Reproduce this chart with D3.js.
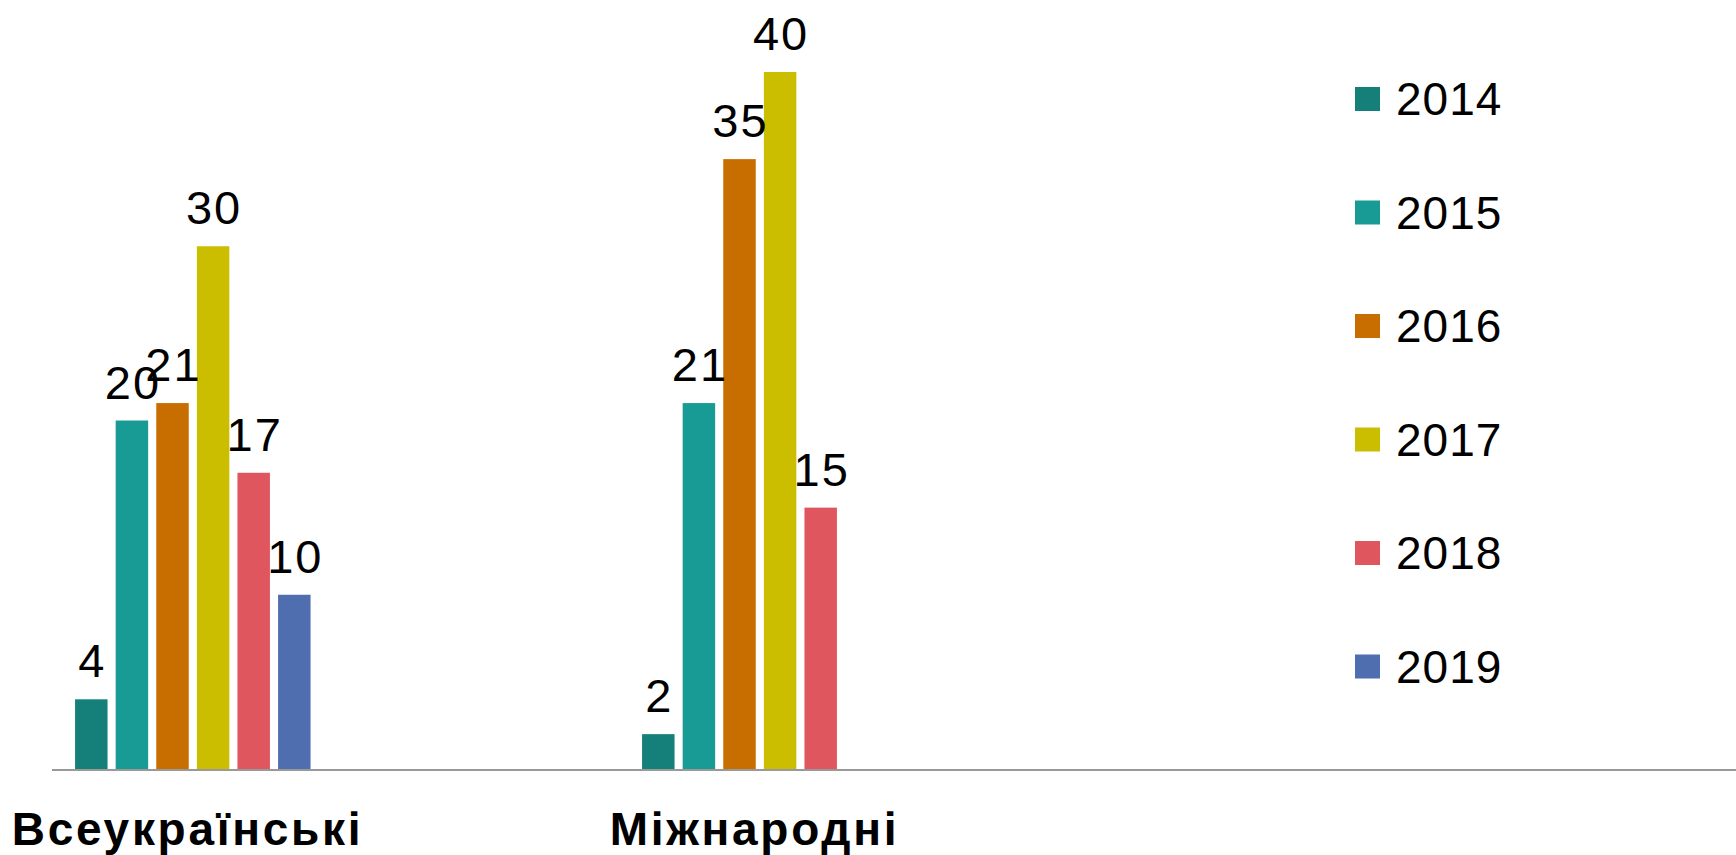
<!DOCTYPE html>
<html>
<head>
<meta charset="utf-8">
<script src="https://cdn.jsdelivr.net/npm/d3@7"></script>
<style>
    body { margin: 0; background: #fff; }
    svg { display: block; font-family: "Liberation Sans", Arial, sans-serif; }
    .value { font-size: 47px; fill: #000; letter-spacing: 2px; }
    .legend text { font-size: 46px; fill: #000; letter-spacing: 1px; }
    .xaxis text { font-size: 46px; font-weight: bold; fill: #000; letter-spacing: 2.7px; }
</style>
</head>
<body>
<div id="vis"></div>
<script>
// Categories, series and values
var categories = ['Всеукраїнські', 'Міжнародні'];
var years = ['2014', '2015', '2016', '2017', '2018', '2019'];
var colors = ['#15807a', '#189b95', '#c86e00', '#cbbe00', '#e0565e', '#4f6eb0'];
// values per year, in category order (null = no bar)
var values2014 = [4, 2];
var values2015 = [20, 21];
var values2016 = [21, 35];
var values2017 = [30, 40];
var values2018 = [17, 15];
var values2019 = [10, null];

var series = [values2014, values2015, values2016, values2017, values2018, values2019];

// Size of the svg
var width = 1736;
var height = 855;

var svg = d3.select('#vis')
    .append('svg')
    .attr('width', width)
    .attr('height', height);

/* ********** scales ********** */
// Outer band per category, inner band per year
var x0 = d3.scaleBand()
    .domain(categories)
    .range([-92, 1042]);

var x1 = d3.scaleBand()
    .domain(years)
    .range([163, 406.6])
    .paddingInner(0.2)
    .paddingOuter(0.1);

var yScale = d3.scaleLinear()
    .domain([0, 40])
    .range([769, 72]);

var color = d3.scaleOrdinal()
    .domain(years)
    .range(colors);

// Flatten into rows for the data join
var rows = [];
years.forEach(function(yr, i) {
    categories.forEach(function(cat, j) {
        if (series[i][j] != null) {
            rows.push({year: yr, cat: cat, value: series[i][j]});
        }
    });
});

/* ********** bars ********** */
svg.append('g')
    .selectAll('rect')
    .data(rows)
    .enter().append('rect')
    .attr('x', function(d) { return x0(d.cat) + x1(d.year); })
    .attr('y', function(d) { return yScale(d.value); })
    .attr('width', x1.bandwidth())
    .attr('height', function(d) { return yScale(0) - yScale(d.value); })
    .attr('fill', function(d) { return color(d.year); });

// Value labels above each bar
svg.append('g')
    .selectAll('text')
    .data(rows)
    .enter().append('text')
    .attr('class', 'value')
    .attr('x', function(d) { return x0(d.cat) + x1(d.year) + x1.bandwidth() / 2 + 1; })
    .attr('y', function(d) { return yScale(d.value) - 22; })
    .attr('text-anchor', 'middle')
    .text(function(d) { return d.value; });

/* ********** x axis ********** */
// Baseline runs the full width of the plot
svg.append('line')
    .attr('x1', 52)
    .attr('x2', width)
    .attr('y1', yScale(0) + 1)
    .attr('y2', yScale(0) + 1)
    .attr('stroke', '#999')
    .attr('stroke-width', 2);

var xAxis = d3.axisBottom(x0).tickSize(0).tickPadding(0);

svg.append('g')
    .attr('class', 'xaxis')
    .attr('transform', 'translate(-4,' + 812 + ')')
    .call(xAxis)
    .call(function(g) { g.select('.domain').remove(); })
    .selectAll('text')
    .attr('font-family', null)
    .attr('font-size', null)
    .attr('dy', '0.71em');

/* ********** legend ********** */
var legend = svg.append('g')
    .attr('class', 'legend')
    .selectAll('g')
    .data(years)
    .enter().append('g')
    .attr('transform', function(d, i) { return 'translate(1355,' + (99 + i * 113.5) + ')'; });

legend.append('rect')
    .attr('x', 0)
    .attr('y', -12)
    .attr('width', 25)
    .attr('height', 24)
    .attr('fill', function(d) { return color(d); });

legend.append('text')
    .attr('x', 41)
    .attr('y', 0)
    .attr('dy', '0.35em')
    .text(function(d) { return d; });
</script>
</body>
</html>
